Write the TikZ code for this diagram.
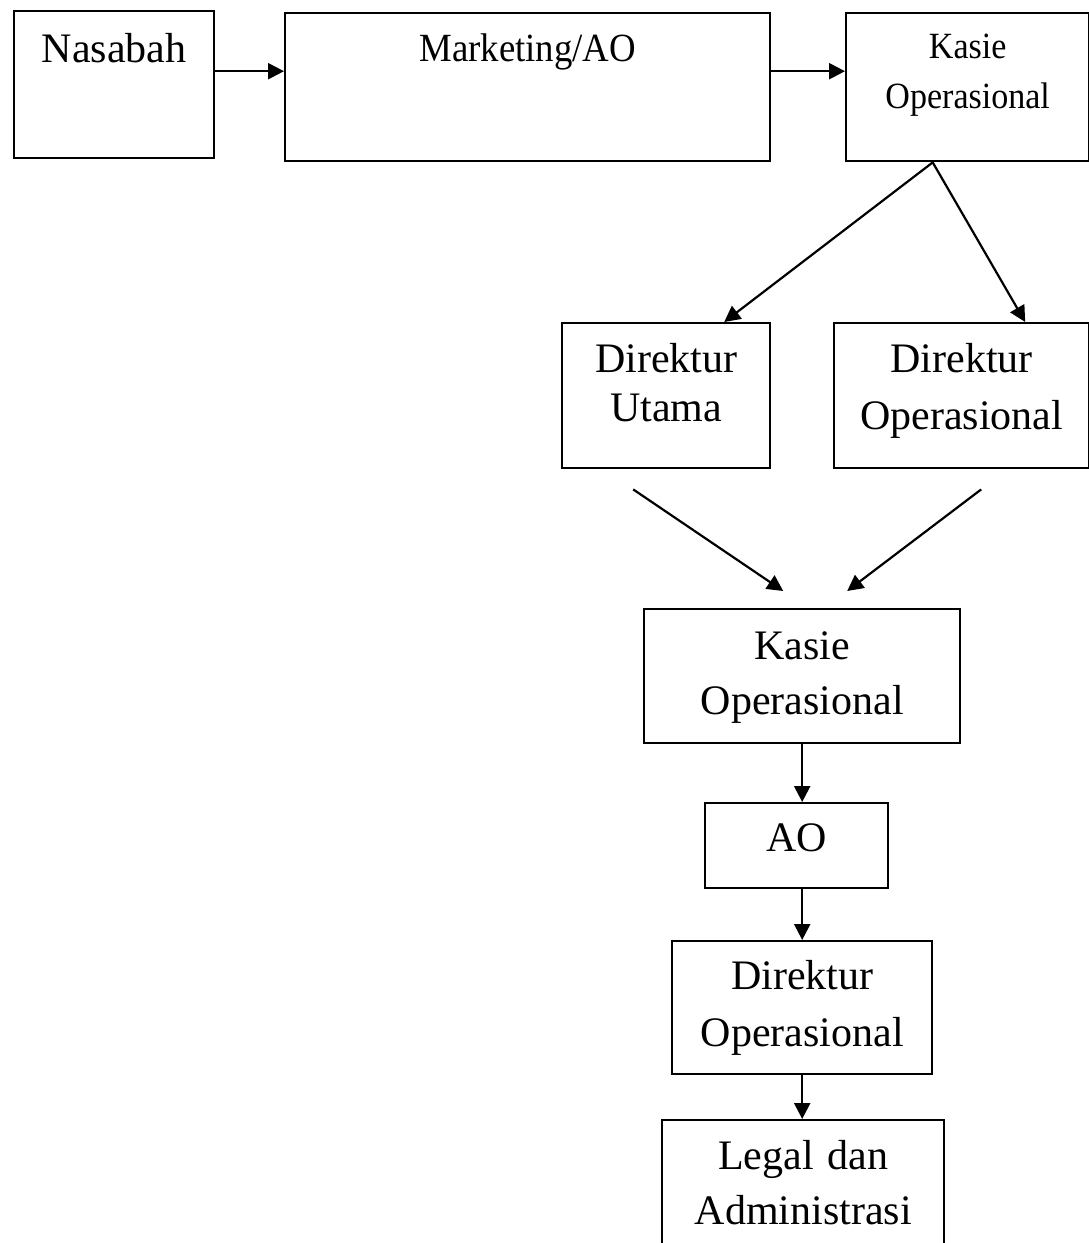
\documentclass[tikz,border=0pt]{standalone}
\usepackage{fontspec}
\setmainfont{Liberation Serif}
\newfontfamily\sempit[FakeStretch=0.92]{Liberation Serif}
\usetikzlibrary{arrows.meta}

\begin{document}
\begin{tikzpicture}[
       x=1pt, y=-1pt,
       line width=2.4pt,
       kotak/.style={
         draw,
         inner sep=0pt,
         anchor=north west,
         align=center
       },
       panah/.style={
         -{Triangle[length=16pt,width=16pt]},
         line width=2.2pt
       }
     ]

       \useasboundingbox (0,0) rectangle (1089,1243);

       % baris atas
       \node (nasabah) at (13,10) [kotak, text width=200pt, text height=51pt, text depth=96pt,
         font=\fontsize{42pt}{56pt}\selectfont]{Nasabah};
       \node (marketing) at (284,12) [kotak, text width=485pt, text height=48pt, text depth=100pt,
         font=\sempit\fontsize{40pt}{50pt}\selectfont]{Marketing/AO};
       \node (kasie1) at (845,12) [kotak, text width=243pt, text height=45pt, text depth=103pt,
         font=\sempit\fontsize{37pt}{50pt}\selectfont]{Kasie\\Operasional};

       % direktur
       \node (dirut) at (561,322) [kotak, text width=208pt, text height=49pt, text depth=96pt,
         font=\fontsize{42pt}{49pt}\selectfont]{Direktur\\Utama};
       \node (dirops1) at (833,322) [kotak, text width=255pt, text height=49pt, text depth=96pt,
         font=\fontsize{42pt}{57pt}\selectfont]{Direktur\\Operasional};

       % kolom bawah
       \node (kasie2) at (643,608) [kotak, text width=316pt, text height=50pt, text depth=84pt,
         font=\fontsize{42pt}{55pt}\selectfont]{Kasie\\Operasional};
       \node (ao) at (704,802) [kotak, text width=183pt, text height=48pt, text depth=37pt,
         font=\fontsize{42pt}{56pt}\selectfont]{AO};
       \node (dirops2) at (671,940) [kotak, text width=260pt, text height=48pt, text depth=85pt,
         font=\fontsize{42pt}{57pt}\selectfont]{Direktur\\Operasional};
       \node (legal) at (661,1119) [kotak, text width=282pt, text height=49pt, text depth=150pt,
         font=\fontsize{42pt}{55pt}\selectfont]{Legal dan\\Administrasi};

       \draw[panah] ([yshift=13.5pt]nasabah.east) -- ([yshift=16pt]marketing.west);
       \draw[panah] ([yshift=16pt]marketing.east) -- ([yshift=16pt]kasie1.west);

       \draw[panah] ([xshift=-35pt]kasie1.south) -- ([xshift=58pt]dirut.north);
       \draw[panah] ([xshift=-35pt]kasie1.south) -- ([xshift=63.5pt]dirops1.north);

       \draw[panah] ([xshift=-33pt,yshift=-20pt]dirut.south) -- ([xshift=-19pt,yshift=17pt]kasie2.north);
       \draw[panah] ([xshift=19.5pt,yshift=-20pt]dirops1.south) -- ([xshift=45pt,yshift=17pt]kasie2.north);

       \draw[panah] (kasie2.south) -- (kasie2.south |- ao.north);
       \draw[panah] (ao.south -| kasie2.south) -- (kasie2.south |- dirops2.north);
       \draw[panah] (dirops2.south) -- (dirops2.south |- legal.north);

\end{tikzpicture}
\end{document}
